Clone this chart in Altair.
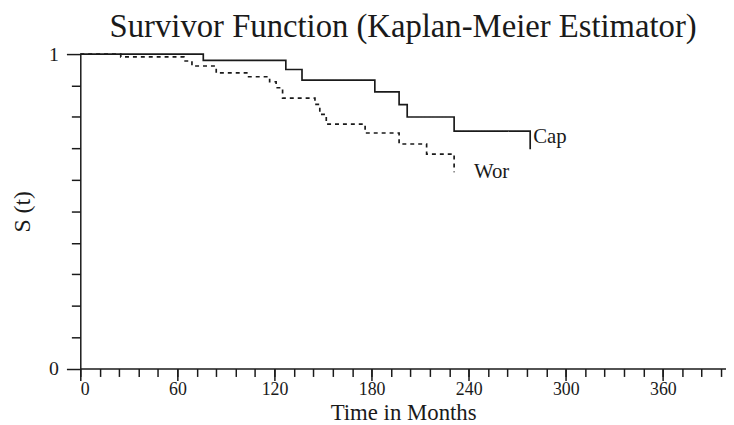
import altair as alt
import pandas as pd

# Kaplan-Meier step data
cap_months = [0, 76, 127, 137, 182, 197, 202, 231, 278]
cap_surv = [1.0, 0.980, 0.951, 0.917, 0.880, 0.839, 0.800, 0.755, 0.697]
wor_months = [0, 25, 64, 69, 84, 104, 117, 121, 125, 145, 148, 152, 176, 197, 214, 231]
wor_surv = [1.0, 0.991, 0.978, 0.962, 0.940, 0.928, 0.912, 0.893, 0.860, 0.840, 0.808,
            0.777, 0.749, 0.714, 0.682, 0.624]
series_names = ["Cap", "Wor"]
chart_title = ["Survivor Function (Kaplan-Meier Estimator)"]

x_major = [0, 60, 120, 180, 240, 300, 360]
x_minor = list(range(0, 397, 12))
y_major = [0, 1]
y_minor = [0.1, 0.2, 0.3, 0.4, 0.5, 0.6, 0.7, 0.8, 0.9]

df = pd.concat([
    pd.DataFrame({"month": cap_months, "S": cap_surv, "group": series_names[0]}),
    pd.DataFrame({"month": wor_months, "S": wor_surv, "group": series_names[1]}),
])
cap_end = pd.DataFrame({"month": [cap_months[-1]], "S": [cap_surv[-1]], "group": [series_names[0]]})
wor_end = pd.DataFrame({"month": [wor_months[-1]], "S": [wor_surv[-1]], "group": [series_names[1]]})
title_df = pd.DataFrame({"t": chart_title})

SERIF = "Liberation Serif"
INK = "#1a1a1a"
W, H = 652, 317.5
xscale = alt.Scale(domain=[0, 399], nice=False, zero=False)
yscale = alt.Scale(domain=[0, 1], nice=False)

lines = alt.Chart(df).mark_line(interpolate="step-after", strokeWidth=1.7, color=INK).encode(
    x=alt.X("month:Q", scale=xscale,
            axis=alt.Axis(values=x_major, orient="bottom", title="Time in Months", format="d",
                          tickSize=12, tickWidth=1.5, domainWidth=1.5, labelPadding=0,
                          labelFontSize=18,
                          titleY=51, titleBaseline="alphabetic", titleFontSize=23)),
    y=alt.Y("S:Q", scale=yscale,
            axis=alt.Axis(values=y_major, orient="left", title="S (t)", format="d",
                          tickSize=14, tickWidth=1.5, domainWidth=1.5, labelPadding=8,
                          labelFontSize=20,
                          titleX=-51, titleBaseline="alphabetic", titleAngle=270,
                          titleFontSize=24)),
    strokeDash=alt.StrokeDash("group:N", scale=alt.Scale(domain=series_names, range=[[1, 0], [4, 4]]),
                              legend=None),
)

cap_label = alt.Chart(cap_end).mark_text(font=SERIF, fontSize=21, align="left", color=INK,
                                         dx=3, dy=-6, baseline="alphabetic").encode(
    x=alt.X("month:Q", scale=xscale,
            axis=alt.Axis(values=x_minor, orient="bottom", title=None, labels=False,
                          domain=False, tickSize=8, tickWidth=1.5)),
    y=alt.Y("S:Q", scale=yscale,
            axis=alt.Axis(values=y_minor, orient="left", title=None, labels=False,
                          domain=False, tickSize=9, tickWidth=1.5)),
    text="group:N",
)

wor_label = alt.Chart(wor_end).mark_text(font=SERIF, fontSize=21, align="left", color=INK,
                                         dx=20, dy=6, baseline="alphabetic").encode(
    x=alt.X("month:Q", scale=xscale, axis=None),
    y=alt.Y("S:Q", scale=yscale, axis=None),
    text="group:N",
)

title_mark = alt.Chart(title_df).mark_text(font=SERIF, fontSize=33, align="center", color=INK,
                                           baseline="alphabetic").encode(
    x=alt.value(W / 2),
    y=alt.value(-17.5),
    text="t:N",
)

chart = alt.layer(lines, cap_label, wor_label, title_mark).resolve_axis(
    x="independent", y="independent"
).properties(
    width=W,
    height=H,
    autosize=alt.AutoSizeParams(type="none"),
    padding={"left": 73, "top": 44.5, "right": 0, "bottom": 55},
).configure_view(stroke=None).configure_axis(
    grid=False, domainColor=INK, tickColor=INK, labelColor=INK,
    titleColor=INK, labelFont=SERIF, titleFont=SERIF,
    titleFontWeight="normal",
).configure_axisLeft(labelBaseline="middle")

chart.save("out.html", embed_options={"renderer": "svg", "actions": False})
